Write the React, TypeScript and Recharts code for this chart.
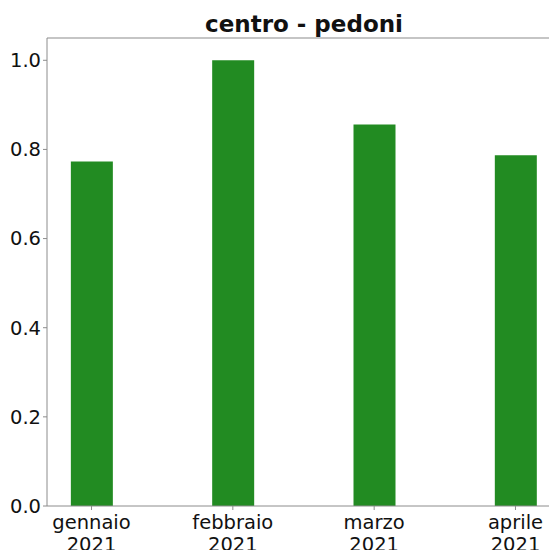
import { BarChart, Bar, XAxis, YAxis, ReferenceLine, Customized } from "recharts";

const months = ["gennaio", "febbraio", "marzo", "aprile"];
const years = ["2021", "2021", "2021", "2021"];
const values = [0.773, 1.0, 0.856, 0.787];
const yTicks = [0, 0.2, 0.4, 0.6, 0.8, 1.0];

const data = months.map((m, i) => ({ idx: i, month: m, year: years[i], value: values[i] }));

const FONT = "'DejaVu Sans', sans-serif";
const SPINE = "#8c8c8c";

function MonthTick(props: any) {
  const { x, y, payload } = props;
  const i = payload.value as number;
  return (
    <text x={x} y={y} textAnchor="middle" fontFamily={FONT} fontSize={19.5} fill="#111">
      <tspan x={x} dy={17}>{months[i]}</tspan>
      <tspan x={x} dy={22}>{years[i]}</tspan>
    </text>
  );
}

function Title() {
  return (
    <text x={296} y={23.5} textAnchor="middle" fontFamily={FONT} fontWeight="bold" fontSize={23} fill="#111">
      centro - pedoni
    </text>
  );
}

export default function App() {
  return (
    <div style={{ width: 552, height: 542, overflow: "hidden" }}>
      {/* the axes run past the window's right edge, so keep scrollbars away */}
      <style>{"html, body { overflow: hidden; }"}</style>
      <BarChart
        width={552}
        height={542}
        data={data}
        margin={{ top: 30, right: 0, bottom: 0, left: 0 }}
      >
        <XAxis
          dataKey="idx"
          type="number"
          domain={[-0.315, 3.315]}
          ticks={[0, 1, 2, 3]}
          allowDataOverflow
          height={44}
          stroke={SPINE}
          tickSize={4}
          tick={<MonthTick />}
        />
        <YAxis
          type="number"
          domain={[0, 1.05]}
          ticks={yTicks}
          allowDataOverflow
          width={39}
          stroke={SPINE}
          tickSize={4}
          tickFormatter={(v: number) => v.toFixed(1)}
          tick={{ fontFamily: FONT, fontSize: 19.5, fill: "#111" }}
        />
        <ReferenceLine y={1.05} stroke={SPINE} strokeWidth={1.2} ifOverflow="extendDomain" />
        <Bar dataKey="value" fill="#228B22" barSize={42} isAnimationActive={false} />
        <Customized component={Title} />
      </BarChart>
    </div>
  );
}
